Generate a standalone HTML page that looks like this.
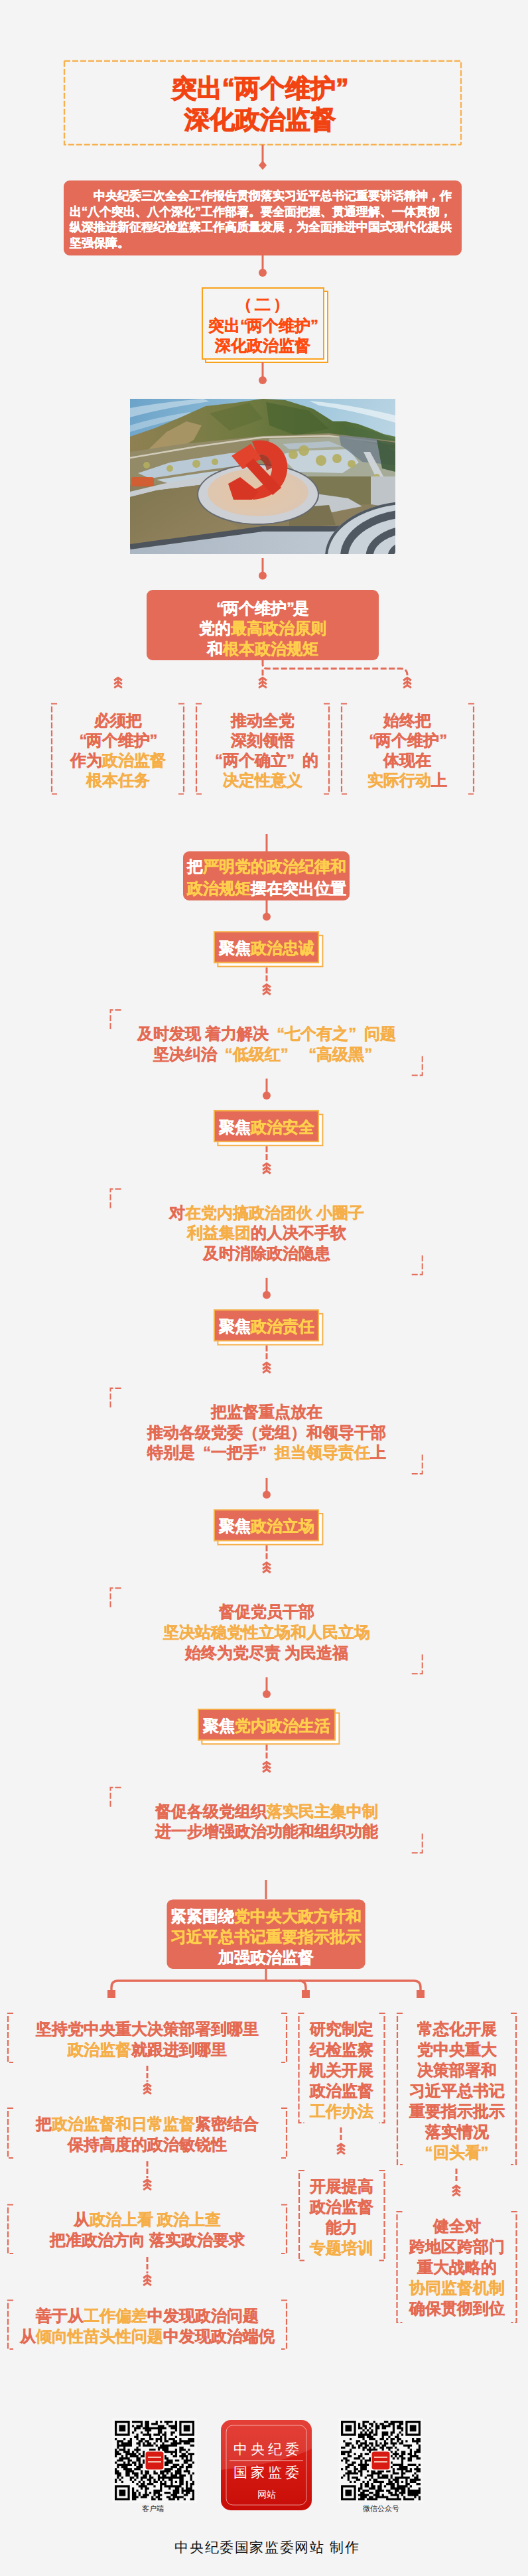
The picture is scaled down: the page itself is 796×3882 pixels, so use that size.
<!DOCTYPE html>
<html><head><meta charset="utf-8"><style>
html,body{margin:0;padding:0;}
body{width:796px;height:3882px;background:#f4f4f4;position:relative;overflow:hidden;font-family:"Liberation Sans",sans-serif;}
.t{position:absolute;text-align:center;white-space:nowrap;font-weight:bold;-webkit-text-stroke:0.45px currentColor;}
.intro{white-space:normal;text-align:justify;text-indent:2em;font-size:18px;line-height:23.5px;color:#fff;-webkit-text-stroke:0.5px #fff;}
.q{display:inline-block;width:19.5px;}
.q2{display:inline-block;width:10px;}
.q3{display:inline-block;width:24px;}
.qo{text-align:right;}
.qc{text-align:left;}
svg.main{position:absolute;left:0;top:0;}
.f{position:absolute;text-align:center;white-space:nowrap;color:#fff;}
</style></head><body>
<svg class="main" width="796" height="3882" viewBox="0 0 796 3882">
<path d="M97,91.8 L695,91.8 L695,218 M97,91.8 L97,218 L695,218" fill="none" stroke="#f8b04c" stroke-width="2.3" stroke-dasharray="9 3"/>
<line x1="396" y1="218" x2="396" y2="246" stroke="#e36b58" stroke-width="3"/>
<path d="M396,242 L402,249 L396,256 L390,249 Z" fill="#e36b58"/>
<rect x="96" y="272" width="600" height="113" rx="9" fill="#e36b58"/>
<line x1="396" y1="385" x2="396" y2="411" stroke="#e36b58" stroke-width="3"/>
<circle cx="396" cy="411" r="6" fill="#e36b58"/>
<rect x="310" y="439" width="184" height="107" rx="0" fill="#ffffff" stroke="#f9a11b" stroke-width="2"/>
<rect x="305" y="434" width="183" height="107" rx="0" fill="#f4f4f4" stroke="#f9a11b" stroke-width="2"/>
<line x1="396" y1="546" x2="396" y2="573" stroke="#e36b58" stroke-width="3"/>
<circle cx="396" cy="573" r="6" fill="#e36b58"/>
<svg x="196" y="601" width="400" height="234" viewBox="0 0 400 234" overflow="hidden">
<defs>
<linearGradient id="sky" x1="0" y1="0" x2="1" y2="0.3"><stop offset="0" stop-color="#6ba3c9"/><stop offset="0.6" stop-color="#9ec6dc"/><stop offset="1" stop-color="#bcd6e4"/></linearGradient>
<linearGradient id="mtn" x1="0" y1="0" x2="1" y2="0"><stop offset="0" stop-color="#8f8052"/><stop offset="0.45" stop-color="#6f7a40"/><stop offset="0.8" stop-color="#4f6a36"/><stop offset="1" stop-color="#5d7a48"/></linearGradient>
<linearGradient id="pave" x1="0" y1="0" x2="1" y2="0"><stop offset="0" stop-color="#aab6c2"/><stop offset="1" stop-color="#c3cdd7"/></linearGradient>
<radialGradient id="beige" cx="0.45" cy="0.5" r="0.55"><stop offset="0" stop-color="#e6c6a6"/><stop offset="1" stop-color="#dcc6b2"/></radialGradient>
<linearGradient id="grass" x1="0" y1="0" x2="1" y2="1"><stop offset="0" stop-color="#7f7650"/><stop offset="1" stop-color="#95855f"/></linearGradient>
</defs>
<rect x="0" y="0" width="400" height="234" fill="url(#sky)"/>
<path d="M0,14 Q40,6 110,0 L120,4 Q50,14 0,28 Z" fill="#e3eef4" opacity="0.5"/>
<path d="M0,40 Q40,28 90,20 L95,25 Q45,36 0,50 Z" fill="#e3eef4" opacity="0.4"/>
<path d="M270,3 Q330,8 400,25 L400,36 Q340,18 285,10 Z" fill="#eef5f8" opacity="0.7"/>
<path d="M0,57 L38,44 L76,28 L114,11 L159,6 L200,0 L234,2 L276,15 L306,34 L325,34 L344,38 L363,45 L382,53 L400,57 L400,110 L0,110 Z" fill="url(#mtn)"/>
<path d="M28,76 L55,50 L85,34 L108,40 L96,62 L62,82 Z" fill="#b09a6c" opacity="0.8"/>
<path d="M120,22 L180,6 L200,30 L150,48 Z" fill="#5a6c32" opacity="0.5"/>
<path d="M205,5 L270,18 L300,45 L250,55 L210,40 Z" fill="#46612e" opacity="0.6"/>
<path d="M320,40 L370,50 L400,62 L400,80 L330,62 Z" fill="#47683f" opacity="0.5"/>
<rect x="0" y="100" width="400" height="134" fill="#8a7e5c"/>
<path d="M0,80 L80,68 L200,56 L300,52 L400,64 L400,125 L0,130 Z" fill="#938a68"/>
<path d="M0,89 L100,72 L200,58 L300,56 L400,68" fill="none" stroke="#d2cdbb" stroke-width="2.5"/>
<path d="M210,60 L320,58 L400,75 L400,120 L210,118 Z" fill="#a6ab98"/>
<path d="M12,112 L60,96 L150,82 L200,80 L185,98 L110,108 L30,120 Z" fill="#b9c9d5"/>
<path d="M40,122 L120,110 L160,106 L140,117 L60,128 Z" fill="#c2d0da"/>
<path d="M225,84 L260,78 L330,76 L345,96 L320,112 L250,110 Z" fill="#c6d2da"/>
<path d="M230,68 L300,64 L320,72 L240,76 Z" fill="#b3c0c8"/>
<path d="M315,55 L370,60 L400,80 L400,100 L350,95 L318,70 Z" fill="#6f7f8c" opacity="0.8"/>
<path d="M372,62 L400,66 L400,110 L380,105 Z" fill="#3f5b3c" opacity="0.9"/>
<path d="M352,80 L362,80 L400,150 L390,158 Z" fill="#cdd2d6"/>
<circle cx="25" cy="100" r="5" fill="#b2ad5e" opacity="0.9"/>
<circle cx="60" cy="105" r="5" fill="#b2ad5e" opacity="0.9"/>
<circle cx="100" cy="98" r="6" fill="#b2ad5e" opacity="0.9"/>
<circle cx="128" cy="95" r="5" fill="#b2ad5e" opacity="0.9"/>
<circle cx="246" cy="84" r="7" fill="#b2ad5e" opacity="0.9"/>
<circle cx="262" cy="78" r="8" fill="#b2ad5e" opacity="0.9"/>
<circle cx="288" cy="93" r="8" fill="#b2ad5e" opacity="0.9"/>
<circle cx="312" cy="90" r="7" fill="#b2ad5e" opacity="0.9"/>
<circle cx="334" cy="98" r="6" fill="#b2ad5e" opacity="0.9"/>
<circle cx="372" cy="118" r="5" fill="#b2ad5e" opacity="0.9"/>
<circle cx="388" cy="126" r="5" fill="#b2ad5e" opacity="0.9"/>
<path d="M0,140 L50,128 L114,116 L140,114 L120,128 L40,138 L0,148 Z" fill="#c8cdd2"/>
<rect x="2" y="118" width="34" height="14" rx="3" fill="#d85a2e" opacity="0.9"/>
<path d="M0,148 L40,138 L120,128 L130,150 L150,185 L165,195 L0,222 Z" fill="url(#grass)"/>
<path d="M268,117 L363,117 L363,159 L320,160 L285,150 Z" fill="#7b7852"/>
<path d="M363,117 L400,117 L400,165 L363,159 Z" fill="#bfc4c8"/>
<path d="M280,143 L329,150 L350,162 L300,172 L272,165 Z" fill="#c3c8cd"/>
<path d="M240,165 L300,160 L310,190 L240,195 Z" fill="#7a7150"/>
<path d="M0,222 L200,193 L300,192 L400,190 L400,234 L0,234 Z" fill="url(#pave)"/>
<path d="M0,223 L200,196 L300,196 L400,192" fill="none" stroke="#4e545c" stroke-width="8"/>
<ellipse cx="427" cy="238" rx="133" ry="84" fill="#c9d1d9"/>
<g fill="none" stroke="#4f5760">
<ellipse cx="427" cy="238" rx="131" ry="82" stroke-width="4"/>
<ellipse cx="427" cy="238" rx="104" ry="65.52" stroke-width="12"/>
<ellipse cx="427" cy="238" rx="66" ry="41.58" stroke-width="11"/>
<ellipse cx="427" cy="238" rx="34" ry="21.42" stroke-width="9"/>
</g>
<ellipse cx="193" cy="144" rx="92" ry="46" fill="#656a70"/>
<ellipse cx="193" cy="144" rx="90" ry="44" fill="#cdd1d6"/>
<ellipse cx="193" cy="141" rx="76" ry="36" fill="url(#beige)"/>
<path d="M184,64 C218,56 244,84 236,114 C230,138 210,150 186,152 L174,140 C198,136 214,122 214,104 C214,90 204,82 192,84 Z" fill="#dc3b27"/>
<path d="M192,84 C204,82 214,90 214,104 L206,108 C204,96 198,90 190,90 Z" fill="#a8281c" opacity="0.8"/>
<path d="M148,128 L166,118 L194,140 L184,152 L156,152 Z" fill="#d83624"/>
<path d="M153,86 L182,68 L198,90 L170,106 Z" fill="#e2432c"/>
<path d="M174,100 L186,90 L228,134 L215,145 Z" fill="#d63524"/>
</svg>
<line x1="396" y1="841" x2="396" y2="867" stroke="#e36b58" stroke-width="3"/>
<circle cx="396" cy="867.4" r="6" fill="#e36b58"/>
<rect x="221" y="889" width="350" height="106" rx="9" fill="#e36b58"/>
<path d="M396,995 L396,1001 Q396,1007.5 402.5,1007.5 L604,1007.5 Q614,1007.5 614,1017.5" fill="none" stroke="#e36b58" stroke-width="3" stroke-dasharray="9 3.5"/>
<line x1="396" y1="1009" x2="396" y2="1018" stroke="#e36b58" stroke-width="3"/>
<path d="M172.1,1025.4 L178,1021.4 L183.9,1025.4 M172.1,1030.95 L178,1026.95 L183.9,1030.95 M172.1,1036.5 L178,1032.5 L183.9,1036.5 " fill="none" stroke="#e36b58" stroke-width="3.1" stroke-linejoin="miter" stroke-miterlimit="10"/>
<line x1="178" y1="1021.5" x2="178" y2="1032.5" stroke="#e36b58" stroke-width="2.6"/>
<path d="M390.1,1025.4 L396,1021.4 L401.9,1025.4 M390.1,1030.95 L396,1026.95 L401.9,1030.95 M390.1,1036.5 L396,1032.5 L401.9,1036.5 " fill="none" stroke="#e36b58" stroke-width="3.1" stroke-linejoin="miter" stroke-miterlimit="10"/>
<line x1="396" y1="1021.5" x2="396" y2="1032.5" stroke="#e36b58" stroke-width="2.6"/>
<path d="M608.1,1025.4 L614,1021.4 L619.9,1025.4 M608.1,1030.95 L614,1026.95 L619.9,1030.95 M608.1,1036.5 L614,1032.5 L619.9,1036.5 " fill="none" stroke="#e36b58" stroke-width="3.1" stroke-linejoin="miter" stroke-miterlimit="10"/>
<line x1="614" y1="1021.5" x2="614" y2="1032.5" stroke="#e36b58" stroke-width="2.6"/>
<path d="M86,1060.5 L78,1060.5 L78,1196.5 L86,1196.5" fill="none" stroke="#e36b58" stroke-width="2.2" stroke-dasharray="9 3"/>
<path d="M269,1060.5 L277,1060.5 L277,1196.5 L269,1196.5" fill="none" stroke="#e36b58" stroke-width="2.2" stroke-dasharray="9 3"/>
<path d="M304,1060.5 L296,1060.5 L296,1196.5 L304,1196.5" fill="none" stroke="#e36b58" stroke-width="2.2" stroke-dasharray="9 3"/>
<path d="M488,1060.5 L496,1060.5 L496,1196.5 L488,1196.5" fill="none" stroke="#e36b58" stroke-width="2.2" stroke-dasharray="9 3"/>
<path d="M523,1060.5 L515,1060.5 L515,1196.5 L523,1196.5" fill="none" stroke="#e36b58" stroke-width="2.2" stroke-dasharray="9 3"/>
<path d="M706,1060.5 L714,1060.5 L714,1196.5 L706,1196.5" fill="none" stroke="#e36b58" stroke-width="2.2" stroke-dasharray="9 3"/>
<line x1="402" y1="1257" x2="402" y2="1283" stroke="#e36b58" stroke-width="3"/>
<rect x="276" y="1283" width="251" height="74" rx="9" fill="#e36b58"/>
<line x1="402" y1="1357" x2="402" y2="1381.4" stroke="#e36b58" stroke-width="3"/>
<circle cx="402" cy="1381.4" r="6" fill="#e36b58"/>
<rect x="328.4" y="1409.8" width="158.0" height="46.700000000000045" rx="0" fill="#ffffff" stroke="#f6b04a" stroke-width="2"/>
<rect x="323" y="1404.2" width="157" height="46.299999999999955" rx="0" fill="#e36b58" stroke="#f6b04a" stroke-width="2"/>
<line x1="402" y1="1458" x2="402" y2="1479.5" stroke="#e36b58" stroke-width="3" stroke-dasharray="9 2.7"/>
<path d="M396.1,1487.6000000000001 L402,1483.6000000000001 L407.9,1487.6000000000001 M396.1,1493.15 L402,1489.15 L407.9,1493.15 M396.1,1498.7 L402,1494.7 L407.9,1498.7 " fill="none" stroke="#e36b58" stroke-width="3.1" stroke-linejoin="miter" stroke-miterlimit="10"/>
<line x1="402" y1="1483.7" x2="402" y2="1494.7" stroke="#e36b58" stroke-width="2.6"/>
<path d="M182.5,1522 L166.5,1522 L166.5,1552" fill="none" stroke="#e36b58" stroke-width="2" stroke-dasharray="9 3"/>
<path d="M620.7,1620.5 L636.7,1620.5 L636.7,1590.5" fill="none" stroke="#e36b58" stroke-width="2" stroke-dasharray="9 3"/>
<line x1="402" y1="1625.5" x2="402" y2="1651.1" stroke="#e36b58" stroke-width="3"/>
<circle cx="402" cy="1651.1" r="6" fill="#e36b58"/>
<rect x="328.4" y="1679.5" width="158.0" height="46.700000000000045" rx="0" fill="#ffffff" stroke="#f6b04a" stroke-width="2"/>
<rect x="323" y="1673.9" width="157" height="46.299999999999955" rx="0" fill="#e36b58" stroke="#f6b04a" stroke-width="2"/>
<line x1="402" y1="1727.2" x2="402" y2="1748.7" stroke="#e36b58" stroke-width="3" stroke-dasharray="9 2.7"/>
<path d="M396.1,1757.3000000000002 L402,1753.3000000000002 L407.9,1757.3000000000002 M396.1,1762.8500000000001 L402,1758.8500000000001 L407.9,1762.8500000000001 M396.1,1768.4 L402,1764.4 L407.9,1768.4 " fill="none" stroke="#e36b58" stroke-width="3.1" stroke-linejoin="miter" stroke-miterlimit="10"/>
<line x1="402" y1="1753.4" x2="402" y2="1764.4" stroke="#e36b58" stroke-width="2.6"/>
<path d="M182.5,1791.7 L166.5,1791.7 L166.5,1821.7" fill="none" stroke="#e36b58" stroke-width="2" stroke-dasharray="9 3"/>
<path d="M620.7,1920.7 L636.7,1920.7 L636.7,1890.7" fill="none" stroke="#e36b58" stroke-width="2" stroke-dasharray="9 3"/>
<line x1="402" y1="1925.8" x2="402" y2="1951.3999999999999" stroke="#e36b58" stroke-width="3"/>
<circle cx="402" cy="1951.3999999999999" r="6" fill="#e36b58"/>
<rect x="328.4" y="1979.8" width="158.0" height="46.700000000000045" rx="0" fill="#ffffff" stroke="#f6b04a" stroke-width="2"/>
<rect x="323" y="1974.2" width="157" height="46.299999999999955" rx="0" fill="#e36b58" stroke="#f6b04a" stroke-width="2"/>
<line x1="402" y1="2027.5" x2="402" y2="2049.0" stroke="#e36b58" stroke-width="3" stroke-dasharray="9 2.7"/>
<path d="M396.1,2057.6 L402,2053.6 L407.9,2057.6 M396.1,2063.15 L402,2059.15 L407.9,2063.15 M396.1,2068.7 L402,2064.7 L407.9,2068.7 " fill="none" stroke="#e36b58" stroke-width="3.1" stroke-linejoin="miter" stroke-miterlimit="10"/>
<line x1="402" y1="2053.7" x2="402" y2="2064.7" stroke="#e36b58" stroke-width="2.6"/>
<path d="M182.5,2092.0 L166.5,2092.0 L166.5,2122.0" fill="none" stroke="#e36b58" stroke-width="2" stroke-dasharray="9 3"/>
<path d="M620.7,2221.0 L636.7,2221.0 L636.7,2191.0" fill="none" stroke="#e36b58" stroke-width="2" stroke-dasharray="9 3"/>
<line x1="402" y1="2227" x2="402" y2="2252.6" stroke="#e36b58" stroke-width="3"/>
<circle cx="402" cy="2252.6" r="6" fill="#e36b58"/>
<rect x="328.4" y="2281" width="158.0" height="46.69999999999982" rx="0" fill="#ffffff" stroke="#f6b04a" stroke-width="2"/>
<rect x="323" y="2275.4" width="157" height="46.29999999999973" rx="0" fill="#e36b58" stroke="#f6b04a" stroke-width="2"/>
<line x1="402" y1="2328.7" x2="402" y2="2350.2" stroke="#e36b58" stroke-width="3" stroke-dasharray="9 2.7"/>
<path d="M396.1,2358.7999999999997 L402,2354.7999999999997 L407.9,2358.7999999999997 M396.1,2364.35 L402,2360.35 L407.9,2364.35 M396.1,2369.8999999999996 L402,2365.8999999999996 L407.9,2369.8999999999996 " fill="none" stroke="#e36b58" stroke-width="3.1" stroke-linejoin="miter" stroke-miterlimit="10"/>
<line x1="402" y1="2354.8999999999996" x2="402" y2="2365.8999999999996" stroke="#e36b58" stroke-width="2.6"/>
<path d="M182.5,2393.2 L166.5,2393.2 L166.5,2423.2" fill="none" stroke="#e36b58" stroke-width="2" stroke-dasharray="9 3"/>
<path d="M620.7,2522.2 L636.7,2522.2 L636.7,2492.2" fill="none" stroke="#e36b58" stroke-width="2" stroke-dasharray="9 3"/>
<line x1="402" y1="2527.5" x2="402" y2="2553.1" stroke="#e36b58" stroke-width="3"/>
<circle cx="402" cy="2553.1" r="6" fill="#e36b58"/>
<rect x="304.4" y="2581.5" width="207.0" height="46.69999999999982" rx="0" fill="#ffffff" stroke="#f6b04a" stroke-width="2"/>
<rect x="299" y="2575.9" width="206" height="46.29999999999973" rx="0" fill="#e36b58" stroke="#f6b04a" stroke-width="2"/>
<line x1="402" y1="2629.2" x2="402" y2="2650.7" stroke="#e36b58" stroke-width="3" stroke-dasharray="9 2.7"/>
<path d="M396.1,2659.2999999999997 L402,2655.2999999999997 L407.9,2659.2999999999997 M396.1,2664.85 L402,2660.85 L407.9,2664.85 M396.1,2670.3999999999996 L402,2666.3999999999996 L407.9,2670.3999999999996 " fill="none" stroke="#e36b58" stroke-width="3.1" stroke-linejoin="miter" stroke-miterlimit="10"/>
<line x1="402" y1="2655.3999999999996" x2="402" y2="2666.3999999999996" stroke="#e36b58" stroke-width="2.6"/>
<path d="M182.5,2693.7 L166.5,2693.7 L166.5,2723.7" fill="none" stroke="#e36b58" stroke-width="2" stroke-dasharray="9 3"/>
<path d="M620.7,2792.2 L636.7,2792.2 L636.7,2762.2" fill="none" stroke="#e36b58" stroke-width="2" stroke-dasharray="9 3"/>
<line x1="401" y1="2833" x2="401" y2="2862" stroke="#e36b58" stroke-width="3"/>
<rect x="251.5" y="2862.4" width="299.1" height="104.59999999999991" rx="9" fill="#e36b58"/>
<line x1="401" y1="2967" x2="401" y2="2985" stroke="#e36b58" stroke-width="3"/>
<path d="M168,3000 L168,2995 Q168,2985 178,2985 L624,2985 Q634,2985 634,2995 L634,3000" fill="none" stroke="#e36b58" stroke-width="3.4"/>
<path d="M451,2985 Q461,2985 461,2995 L461,3000" fill="none" stroke="#e36b58" stroke-width="3.4"/>
<rect x="162" y="2999" width="12" height="12" rx="0" fill="#e36b58"/>
<rect x="455" y="2999" width="12" height="12" rx="0" fill="#e36b58"/>
<rect x="628" y="2999" width="12" height="12" rx="0" fill="#e36b58"/>
<path d="M20,3034 L12,3034 L12,3108 L20,3108" fill="none" stroke="#e36b58" stroke-width="2.2" stroke-dasharray="9 3"/>
<path d="M424,3034 L432,3034 L432,3108 L424,3108" fill="none" stroke="#e36b58" stroke-width="2.2" stroke-dasharray="9 3"/>
<line x1="222" y1="3113" x2="222" y2="3137" stroke="#e36b58" stroke-width="3" stroke-dasharray="8 3"/>
<path d="M216.1,3144.4 L222,3140.4 L227.9,3144.4 M216.1,3149.9500000000003 L222,3145.9500000000003 L227.9,3149.9500000000003 M216.1,3155.5 L222,3151.5 L227.9,3155.5 " fill="none" stroke="#e36b58" stroke-width="3.1" stroke-linejoin="miter" stroke-miterlimit="10"/>
<line x1="222" y1="3140.5" x2="222" y2="3151.5" stroke="#e36b58" stroke-width="2.6"/>
<path d="M20,3177 L12,3177 L12,3252 L20,3252" fill="none" stroke="#e36b58" stroke-width="2.2" stroke-dasharray="9 3"/>
<path d="M424,3177 L432,3177 L432,3252 L424,3252" fill="none" stroke="#e36b58" stroke-width="2.2" stroke-dasharray="9 3"/>
<line x1="222" y1="3257" x2="222" y2="3282" stroke="#e36b58" stroke-width="3" stroke-dasharray="8 3"/>
<path d="M216.1,3288.9 L222,3284.9 L227.9,3288.9 M216.1,3294.4500000000003 L222,3290.4500000000003 L227.9,3294.4500000000003 M216.1,3300.0 L222,3296.0 L227.9,3300.0 " fill="none" stroke="#e36b58" stroke-width="3.1" stroke-linejoin="miter" stroke-miterlimit="10"/>
<line x1="222" y1="3285" x2="222" y2="3296" stroke="#e36b58" stroke-width="2.6"/>
<path d="M20,3322.5 L12,3322.5 L12,3396 L20,3396" fill="none" stroke="#e36b58" stroke-width="2.2" stroke-dasharray="9 3"/>
<path d="M424,3322.5 L432,3322.5 L432,3396 L424,3396" fill="none" stroke="#e36b58" stroke-width="2.2" stroke-dasharray="9 3"/>
<line x1="222" y1="3401" x2="222" y2="3426" stroke="#e36b58" stroke-width="3" stroke-dasharray="8 3"/>
<path d="M216.1,3432.9 L222,3428.9 L227.9,3432.9 M216.1,3438.4500000000003 L222,3434.4500000000003 L227.9,3438.4500000000003 M216.1,3444.0 L222,3440.0 L227.9,3444.0 " fill="none" stroke="#e36b58" stroke-width="3.1" stroke-linejoin="miter" stroke-miterlimit="10"/>
<line x1="222" y1="3429" x2="222" y2="3440" stroke="#e36b58" stroke-width="2.6"/>
<path d="M20,3466.5 L12,3466.5 L12,3540 L20,3540" fill="none" stroke="#e36b58" stroke-width="2.2" stroke-dasharray="9 3"/>
<path d="M424,3466.5 L432,3466.5 L432,3540 L424,3540" fill="none" stroke="#e36b58" stroke-width="2.2" stroke-dasharray="9 3"/>
<path d="M458.5,3034 L450.5,3034 L450.5,3199 L458.5,3199" fill="none" stroke="#e36b58" stroke-width="2.2" stroke-dasharray="9 3"/>
<path d="M571.5,3034 L579.5,3034 L579.5,3199 L571.5,3199" fill="none" stroke="#e36b58" stroke-width="2.2" stroke-dasharray="9 3"/>
<line x1="514" y1="3206" x2="514" y2="3227" stroke="#e36b58" stroke-width="3" stroke-dasharray="8 3"/>
<path d="M508.1,3234.9 L514,3230.9 L519.9,3234.9 M508.1,3240.4500000000003 L514,3236.4500000000003 L519.9,3240.4500000000003 M508.1,3246.0 L514,3242.0 L519.9,3246.0 " fill="none" stroke="#e36b58" stroke-width="3.1" stroke-linejoin="miter" stroke-miterlimit="10"/>
<line x1="514" y1="3231" x2="514" y2="3242" stroke="#e36b58" stroke-width="2.6"/>
<path d="M459,3271 L451,3271 L451,3406.5 L459,3406.5" fill="none" stroke="#e36b58" stroke-width="2.2" stroke-dasharray="9 3"/>
<path d="M571.5,3271 L579.5,3271 L579.5,3406.5 L571.5,3406.5" fill="none" stroke="#e36b58" stroke-width="2.2" stroke-dasharray="9 3"/>
<path d="M607,3034 L599,3034 L599,3262 L607,3262" fill="none" stroke="#e36b58" stroke-width="2.2" stroke-dasharray="9 3"/>
<path d="M770,3034 L778,3034 L778,3262 L770,3262" fill="none" stroke="#e36b58" stroke-width="2.2" stroke-dasharray="9 3"/>
<line x1="688" y1="3268" x2="688" y2="3290" stroke="#e36b58" stroke-width="3" stroke-dasharray="8 3"/>
<path d="M682.1,3297.9 L688,3293.9 L693.9,3297.9 M682.1,3303.4500000000003 L688,3299.4500000000003 L693.9,3303.4500000000003 M682.1,3309.0 L688,3305.0 L693.9,3309.0 " fill="none" stroke="#e36b58" stroke-width="3.1" stroke-linejoin="miter" stroke-miterlimit="10"/>
<line x1="688" y1="3294" x2="688" y2="3305" stroke="#e36b58" stroke-width="2.6"/>
<path d="M606.5,3333 L598.5,3333 L598.5,3500 L606.5,3500" fill="none" stroke="#e36b58" stroke-width="2.2" stroke-dasharray="9 3"/>
<path d="M770.5,3333 L778.5,3333 L778.5,3500 L770.5,3500" fill="none" stroke="#e36b58" stroke-width="2.2" stroke-dasharray="9 3"/>
<g transform="translate(173,3648)"><rect x="-4" y="-4" width="128" height="128" fill="#ffffff" opacity="0.3"/><path d="M0.00 0.00h22.70v3.24h-22.70zM25.95 0.00h16.22v3.24h-16.22zM45.41 0.00h6.49v3.24h-6.49zM61.62 0.00h3.24v3.24h-3.24zM68.11 0.00h3.24v3.24h-3.24zM74.59 0.00h12.97v3.24h-12.97zM90.81 0.00h3.24v3.24h-3.24zM97.30 0.00h22.70v3.24h-22.70zM0.00 3.24h3.24v3.24h-3.24zM19.46 3.24h3.24v3.24h-3.24zM38.92 3.24h3.24v3.24h-3.24zM45.41 3.24h6.49v3.24h-6.49zM55.14 3.24h9.73v3.24h-9.73zM77.84 3.24h3.24v3.24h-3.24zM90.81 3.24h3.24v3.24h-3.24zM97.30 3.24h3.24v3.24h-3.24zM116.76 3.24h3.24v3.24h-3.24zM0.00 6.49h3.24v3.24h-3.24zM6.49 6.49h9.73v3.24h-9.73zM19.46 6.49h3.24v3.24h-3.24zM25.95 6.49h3.24v3.24h-3.24zM32.43 6.49h9.73v3.24h-9.73zM45.41 6.49h6.49v3.24h-6.49zM64.86 6.49h9.73v3.24h-9.73zM81.08 6.49h12.97v3.24h-12.97zM97.30 6.49h3.24v3.24h-3.24zM103.78 6.49h9.73v3.24h-9.73zM116.76 6.49h3.24v3.24h-3.24zM0.00 9.73h3.24v3.24h-3.24zM6.49 9.73h9.73v3.24h-9.73zM19.46 9.73h3.24v3.24h-3.24zM29.19 9.73h9.73v3.24h-9.73zM42.16 9.73h35.68v3.24h-35.68zM84.32 9.73h9.73v3.24h-9.73zM97.30 9.73h3.24v3.24h-3.24zM103.78 9.73h9.73v3.24h-9.73zM116.76 9.73h3.24v3.24h-3.24zM0.00 12.97h3.24v3.24h-3.24zM6.49 12.97h9.73v3.24h-9.73zM19.46 12.97h3.24v3.24h-3.24zM29.19 12.97h3.24v3.24h-3.24zM45.41 12.97h9.73v3.24h-9.73zM64.86 12.97h6.49v3.24h-6.49zM90.81 12.97h3.24v3.24h-3.24zM97.30 12.97h3.24v3.24h-3.24zM103.78 12.97h9.73v3.24h-9.73zM116.76 12.97h3.24v3.24h-3.24zM0.00 16.22h3.24v3.24h-3.24zM19.46 16.22h3.24v3.24h-3.24zM25.95 16.22h3.24v3.24h-3.24zM38.92 16.22h3.24v3.24h-3.24zM48.65 16.22h3.24v3.24h-3.24zM64.86 16.22h6.49v3.24h-6.49zM74.59 16.22h3.24v3.24h-3.24zM84.32 16.22h6.49v3.24h-6.49zM97.30 16.22h3.24v3.24h-3.24zM116.76 16.22h3.24v3.24h-3.24zM0.00 19.46h22.70v3.24h-22.70zM32.43 19.46h3.24v3.24h-3.24zM42.16 19.46h12.97v3.24h-12.97zM58.38 19.46h9.73v3.24h-9.73zM71.35 19.46h6.49v3.24h-6.49zM84.32 19.46h3.24v3.24h-3.24zM97.30 19.46h22.70v3.24h-22.70zM29.19 22.70h6.49v3.24h-6.49zM51.89 22.70h3.24v3.24h-3.24zM68.11 22.70h3.24v3.24h-3.24zM74.59 22.70h3.24v3.24h-3.24zM90.81 22.70h3.24v3.24h-3.24zM0.00 25.95h3.24v3.24h-3.24zM12.97 25.95h3.24v3.24h-3.24zM22.70 25.95h3.24v3.24h-3.24zM32.43 25.95h3.24v3.24h-3.24zM38.92 25.95h6.49v3.24h-6.49zM51.89 25.95h6.49v3.24h-6.49zM61.62 25.95h9.73v3.24h-9.73zM74.59 25.95h3.24v3.24h-3.24zM81.08 25.95h9.73v3.24h-9.73zM97.30 25.95h3.24v3.24h-3.24zM110.27 25.95h9.73v3.24h-9.73zM3.24 29.19h9.73v3.24h-9.73zM19.46 29.19h6.49v3.24h-6.49zM35.68 29.19h6.49v3.24h-6.49zM45.41 29.19h6.49v3.24h-6.49zM61.62 29.19h3.24v3.24h-3.24zM68.11 29.19h3.24v3.24h-3.24zM74.59 29.19h6.49v3.24h-6.49zM87.57 29.19h6.49v3.24h-6.49zM97.30 29.19h22.70v3.24h-22.70zM3.24 32.43h3.24v3.24h-3.24zM9.73 32.43h16.22v3.24h-16.22zM32.43 32.43h6.49v3.24h-6.49zM42.16 32.43h3.24v3.24h-3.24zM48.65 32.43h6.49v3.24h-6.49zM58.38 32.43h3.24v3.24h-3.24zM71.35 32.43h3.24v3.24h-3.24zM84.32 32.43h16.22v3.24h-16.22zM103.78 32.43h9.73v3.24h-9.73zM3.24 35.68h22.70v3.24h-22.70zM35.68 35.68h3.24v3.24h-3.24zM42.16 35.68h16.22v3.24h-16.22zM61.62 35.68h3.24v3.24h-3.24zM68.11 35.68h25.95v3.24h-25.95zM113.51 35.68h6.49v3.24h-6.49zM3.24 38.92h3.24v3.24h-3.24zM12.97 38.92h3.24v3.24h-3.24zM32.43 38.92h3.24v3.24h-3.24zM64.86 38.92h16.22v3.24h-16.22zM97.30 38.92h6.49v3.24h-6.49zM0.00 42.16h3.24v3.24h-3.24zM6.49 42.16h9.73v3.24h-9.73zM19.46 42.16h3.24v3.24h-3.24zM29.19 42.16h9.73v3.24h-9.73zM51.89 42.16h9.73v3.24h-9.73zM64.86 42.16h3.24v3.24h-3.24zM71.35 42.16h9.73v3.24h-9.73zM90.81 42.16h3.24v3.24h-3.24zM97.30 42.16h9.73v3.24h-9.73zM110.27 42.16h3.24v3.24h-3.24zM0.00 45.41h6.49v3.24h-6.49zM12.97 45.41h9.73v3.24h-9.73zM25.95 45.41h3.24v3.24h-3.24zM32.43 45.41h3.24v3.24h-3.24zM42.16 45.41h3.24v3.24h-3.24zM58.38 45.41h3.24v3.24h-3.24zM64.86 45.41h29.19v3.24h-29.19zM97.30 45.41h3.24v3.24h-3.24zM107.03 45.41h3.24v3.24h-3.24zM0.00 48.65h9.73v3.24h-9.73zM16.22 48.65h16.22v3.24h-16.22zM35.68 48.65h3.24v3.24h-3.24zM42.16 48.65h6.49v3.24h-6.49zM51.89 48.65h6.49v3.24h-6.49zM84.32 48.65h3.24v3.24h-3.24zM90.81 48.65h3.24v3.24h-3.24zM100.54 48.65h6.49v3.24h-6.49zM110.27 48.65h9.73v3.24h-9.73zM0.00 51.89h3.24v3.24h-3.24zM9.73 51.89h3.24v3.24h-3.24zM16.22 51.89h3.24v3.24h-3.24zM22.70 51.89h12.97v3.24h-12.97zM38.92 51.89h6.49v3.24h-6.49zM51.89 51.89h25.95v3.24h-25.95zM87.57 51.89h6.49v3.24h-6.49zM97.30 51.89h12.97v3.24h-12.97zM113.51 51.89h3.24v3.24h-3.24zM6.49 55.14h16.22v3.24h-16.22zM32.43 55.14h6.49v3.24h-6.49zM45.41 55.14h3.24v3.24h-3.24zM51.89 55.14h6.49v3.24h-6.49zM71.35 55.14h9.73v3.24h-9.73zM100.54 55.14h3.24v3.24h-3.24zM107.03 55.14h3.24v3.24h-3.24zM113.51 55.14h3.24v3.24h-3.24zM3.24 58.38h9.73v3.24h-9.73zM19.46 58.38h6.49v3.24h-6.49zM32.43 58.38h6.49v3.24h-6.49zM42.16 58.38h9.73v3.24h-9.73zM61.62 58.38h9.73v3.24h-9.73zM77.84 58.38h9.73v3.24h-9.73zM90.81 58.38h6.49v3.24h-6.49zM103.78 58.38h12.97v3.24h-12.97zM0.00 61.62h3.24v3.24h-3.24zM12.97 61.62h3.24v3.24h-3.24zM19.46 61.62h3.24v3.24h-3.24zM25.95 61.62h6.49v3.24h-6.49zM35.68 61.62h3.24v3.24h-3.24zM42.16 61.62h12.97v3.24h-12.97zM61.62 61.62h9.73v3.24h-9.73zM74.59 61.62h12.97v3.24h-12.97zM103.78 61.62h6.49v3.24h-6.49zM116.76 61.62h3.24v3.24h-3.24zM3.24 64.86h22.70v3.24h-22.70zM29.19 64.86h3.24v3.24h-3.24zM35.68 64.86h6.49v3.24h-6.49zM48.65 64.86h12.97v3.24h-12.97zM64.86 64.86h6.49v3.24h-6.49zM74.59 64.86h6.49v3.24h-6.49zM87.57 64.86h9.73v3.24h-9.73zM100.54 64.86h3.24v3.24h-3.24zM110.27 64.86h6.49v3.24h-6.49zM3.24 68.11h3.24v3.24h-3.24zM9.73 68.11h9.73v3.24h-9.73zM32.43 68.11h9.73v3.24h-9.73zM48.65 68.11h12.97v3.24h-12.97zM64.86 68.11h3.24v3.24h-3.24zM84.32 68.11h9.73v3.24h-9.73zM97.30 68.11h6.49v3.24h-6.49zM107.03 68.11h9.73v3.24h-9.73zM0.00 71.35h3.24v3.24h-3.24zM12.97 71.35h12.97v3.24h-12.97zM29.19 71.35h9.73v3.24h-9.73zM55.14 71.35h3.24v3.24h-3.24zM61.62 71.35h3.24v3.24h-3.24zM68.11 71.35h3.24v3.24h-3.24zM74.59 71.35h12.97v3.24h-12.97zM94.05 71.35h6.49v3.24h-6.49zM107.03 71.35h3.24v3.24h-3.24zM0.00 74.59h6.49v3.24h-6.49zM16.22 74.59h12.97v3.24h-12.97zM38.92 74.59h3.24v3.24h-3.24zM45.41 74.59h6.49v3.24h-6.49zM58.38 74.59h3.24v3.24h-3.24zM68.11 74.59h16.22v3.24h-16.22zM90.81 74.59h9.73v3.24h-9.73zM103.78 74.59h9.73v3.24h-9.73zM0.00 77.84h9.73v3.24h-9.73zM16.22 77.84h6.49v3.24h-6.49zM25.95 77.84h9.73v3.24h-9.73zM38.92 77.84h3.24v3.24h-3.24zM45.41 77.84h6.49v3.24h-6.49zM58.38 77.84h6.49v3.24h-6.49zM68.11 77.84h6.49v3.24h-6.49zM77.84 77.84h3.24v3.24h-3.24zM84.32 77.84h3.24v3.24h-3.24zM90.81 77.84h9.73v3.24h-9.73zM110.27 77.84h3.24v3.24h-3.24zM116.76 77.84h3.24v3.24h-3.24zM3.24 81.08h6.49v3.24h-6.49zM16.22 81.08h6.49v3.24h-6.49zM29.19 81.08h6.49v3.24h-6.49zM42.16 81.08h6.49v3.24h-6.49zM51.89 81.08h3.24v3.24h-3.24zM64.86 81.08h3.24v3.24h-3.24zM71.35 81.08h6.49v3.24h-6.49zM84.32 81.08h9.73v3.24h-9.73zM97.30 81.08h9.73v3.24h-9.73zM113.51 81.08h3.24v3.24h-3.24zM3.24 84.32h3.24v3.24h-3.24zM9.73 84.32h3.24v3.24h-3.24zM22.70 84.32h6.49v3.24h-6.49zM32.43 84.32h3.24v3.24h-3.24zM38.92 84.32h9.73v3.24h-9.73zM51.89 84.32h6.49v3.24h-6.49zM64.86 84.32h38.92v3.24h-38.92zM113.51 84.32h3.24v3.24h-3.24zM0.00 87.57h3.24v3.24h-3.24zM6.49 87.57h3.24v3.24h-3.24zM22.70 87.57h3.24v3.24h-3.24zM29.19 87.57h3.24v3.24h-3.24zM38.92 87.57h3.24v3.24h-3.24zM48.65 87.57h6.49v3.24h-6.49zM58.38 87.57h3.24v3.24h-3.24zM64.86 87.57h3.24v3.24h-3.24zM71.35 87.57h3.24v3.24h-3.24zM81.08 87.57h6.49v3.24h-6.49zM97.30 87.57h6.49v3.24h-6.49zM113.51 87.57h3.24v3.24h-3.24zM0.00 90.81h3.24v3.24h-3.24zM9.73 90.81h3.24v3.24h-3.24zM25.95 90.81h3.24v3.24h-3.24zM35.68 90.81h3.24v3.24h-3.24zM42.16 90.81h3.24v3.24h-3.24zM51.89 90.81h3.24v3.24h-3.24zM58.38 90.81h6.49v3.24h-6.49zM68.11 90.81h3.24v3.24h-3.24zM74.59 90.81h3.24v3.24h-3.24zM84.32 90.81h3.24v3.24h-3.24zM90.81 90.81h3.24v3.24h-3.24zM97.30 90.81h6.49v3.24h-6.49zM107.03 90.81h3.24v3.24h-3.24zM116.76 90.81h3.24v3.24h-3.24zM32.43 94.05h3.24v3.24h-3.24zM38.92 94.05h6.49v3.24h-6.49zM48.65 94.05h9.73v3.24h-9.73zM68.11 94.05h9.73v3.24h-9.73zM84.32 94.05h3.24v3.24h-3.24zM97.30 94.05h6.49v3.24h-6.49zM107.03 94.05h3.24v3.24h-3.24zM113.51 94.05h6.49v3.24h-6.49zM0.00 97.30h22.70v3.24h-22.70zM35.68 97.30h12.97v3.24h-12.97zM58.38 97.30h3.24v3.24h-3.24zM68.11 97.30h3.24v3.24h-3.24zM74.59 97.30h25.95v3.24h-25.95zM107.03 97.30h3.24v3.24h-3.24zM113.51 97.30h3.24v3.24h-3.24zM0.00 100.54h3.24v3.24h-3.24zM19.46 100.54h3.24v3.24h-3.24zM25.95 100.54h3.24v3.24h-3.24zM38.92 100.54h3.24v3.24h-3.24zM45.41 100.54h6.49v3.24h-6.49zM68.11 100.54h3.24v3.24h-3.24zM81.08 100.54h3.24v3.24h-3.24zM90.81 100.54h6.49v3.24h-6.49zM100.54 100.54h3.24v3.24h-3.24zM107.03 100.54h9.73v3.24h-9.73zM0.00 103.78h3.24v3.24h-3.24zM6.49 103.78h9.73v3.24h-9.73zM19.46 103.78h3.24v3.24h-3.24zM25.95 103.78h3.24v3.24h-3.24zM32.43 103.78h3.24v3.24h-3.24zM45.41 103.78h3.24v3.24h-3.24zM58.38 103.78h12.97v3.24h-12.97zM87.57 103.78h9.73v3.24h-9.73zM100.54 103.78h19.46v3.24h-19.46zM0.00 107.03h3.24v3.24h-3.24zM6.49 107.03h9.73v3.24h-9.73zM19.46 107.03h3.24v3.24h-3.24zM25.95 107.03h6.49v3.24h-6.49zM35.68 107.03h3.24v3.24h-3.24zM45.41 107.03h3.24v3.24h-3.24zM51.89 107.03h3.24v3.24h-3.24zM58.38 107.03h9.73v3.24h-9.73zM74.59 107.03h9.73v3.24h-9.73zM87.57 107.03h9.73v3.24h-9.73zM100.54 107.03h3.24v3.24h-3.24zM107.03 107.03h6.49v3.24h-6.49zM116.76 107.03h3.24v3.24h-3.24zM0.00 110.27h3.24v3.24h-3.24zM6.49 110.27h9.73v3.24h-9.73zM19.46 110.27h3.24v3.24h-3.24zM25.95 110.27h6.49v3.24h-6.49zM35.68 110.27h3.24v3.24h-3.24zM42.16 110.27h9.73v3.24h-9.73zM58.38 110.27h3.24v3.24h-3.24zM64.86 110.27h6.49v3.24h-6.49zM84.32 110.27h9.73v3.24h-9.73zM103.78 110.27h6.49v3.24h-6.49zM116.76 110.27h3.24v3.24h-3.24zM0.00 113.51h3.24v3.24h-3.24zM19.46 113.51h3.24v3.24h-3.24zM25.95 113.51h9.73v3.24h-9.73zM38.92 113.51h9.73v3.24h-9.73zM55.14 113.51h3.24v3.24h-3.24zM61.62 113.51h6.49v3.24h-6.49zM77.84 113.51h6.49v3.24h-6.49zM87.57 113.51h16.22v3.24h-16.22zM116.76 113.51h3.24v3.24h-3.24zM0.00 116.76h22.70v3.24h-22.70zM25.95 116.76h6.49v3.24h-6.49zM55.14 116.76h6.49v3.24h-6.49zM64.86 116.76h6.49v3.24h-6.49zM81.08 116.76h9.73v3.24h-9.73zM94.05 116.76h3.24v3.24h-3.24zM103.78 116.76h3.24v3.24h-3.24zM113.51 116.76h6.49v3.24h-6.49z" fill="#000"/><rect x="45.0" y="45.0" width="30" height="30" rx="4" fill="#ffffff"/><rect x="46.5" y="46.5" width="27" height="27" rx="3.5" fill="#d71a12"/><rect x="50.0" y="54.0" width="20" height="2" fill="#f6c0b0"/><rect x="50.0" y="61.0" width="20" height="2" fill="#f6c0b0"/></g>
<g transform="translate(514,3648)"><rect x="-4" y="-4" width="128" height="128" fill="#ffffff" opacity="0.3"/><path d="M0.00 0.00h22.70v3.24h-22.70zM32.43 0.00h9.73v3.24h-9.73zM48.65 0.00h3.24v3.24h-3.24zM64.86 0.00h6.49v3.24h-6.49zM74.59 0.00h19.46v3.24h-19.46zM97.30 0.00h22.70v3.24h-22.70zM0.00 3.24h3.24v3.24h-3.24zM19.46 3.24h3.24v3.24h-3.24zM25.95 3.24h3.24v3.24h-3.24zM32.43 3.24h3.24v3.24h-3.24zM42.16 3.24h6.49v3.24h-6.49zM51.89 3.24h3.24v3.24h-3.24zM58.38 3.24h6.49v3.24h-6.49zM71.35 3.24h9.73v3.24h-9.73zM87.57 3.24h6.49v3.24h-6.49zM97.30 3.24h3.24v3.24h-3.24zM116.76 3.24h3.24v3.24h-3.24zM0.00 6.49h3.24v3.24h-3.24zM6.49 6.49h9.73v3.24h-9.73zM19.46 6.49h3.24v3.24h-3.24zM25.95 6.49h3.24v3.24h-3.24zM32.43 6.49h6.49v3.24h-6.49zM45.41 6.49h3.24v3.24h-3.24zM51.89 6.49h6.49v3.24h-6.49zM61.62 6.49h12.97v3.24h-12.97zM77.84 6.49h3.24v3.24h-3.24zM84.32 6.49h6.49v3.24h-6.49zM97.30 6.49h3.24v3.24h-3.24zM103.78 6.49h9.73v3.24h-9.73zM116.76 6.49h3.24v3.24h-3.24zM0.00 9.73h3.24v3.24h-3.24zM6.49 9.73h9.73v3.24h-9.73zM19.46 9.73h3.24v3.24h-3.24zM25.95 9.73h6.49v3.24h-6.49zM35.68 9.73h3.24v3.24h-3.24zM42.16 9.73h3.24v3.24h-3.24zM51.89 9.73h6.49v3.24h-6.49zM61.62 9.73h6.49v3.24h-6.49zM77.84 9.73h3.24v3.24h-3.24zM84.32 9.73h9.73v3.24h-9.73zM97.30 9.73h3.24v3.24h-3.24zM103.78 9.73h9.73v3.24h-9.73zM116.76 9.73h3.24v3.24h-3.24zM0.00 12.97h3.24v3.24h-3.24zM6.49 12.97h9.73v3.24h-9.73zM19.46 12.97h3.24v3.24h-3.24zM32.43 12.97h3.24v3.24h-3.24zM38.92 12.97h3.24v3.24h-3.24zM45.41 12.97h3.24v3.24h-3.24zM51.89 12.97h3.24v3.24h-3.24zM77.84 12.97h3.24v3.24h-3.24zM90.81 12.97h3.24v3.24h-3.24zM97.30 12.97h3.24v3.24h-3.24zM103.78 12.97h9.73v3.24h-9.73zM116.76 12.97h3.24v3.24h-3.24zM0.00 16.22h3.24v3.24h-3.24zM19.46 16.22h3.24v3.24h-3.24zM29.19 16.22h3.24v3.24h-3.24zM35.68 16.22h3.24v3.24h-3.24zM42.16 16.22h6.49v3.24h-6.49zM51.89 16.22h3.24v3.24h-3.24zM61.62 16.22h9.73v3.24h-9.73zM74.59 16.22h6.49v3.24h-6.49zM87.57 16.22h3.24v3.24h-3.24zM97.30 16.22h3.24v3.24h-3.24zM116.76 16.22h3.24v3.24h-3.24zM0.00 19.46h22.70v3.24h-22.70zM25.95 19.46h19.46v3.24h-19.46zM48.65 19.46h6.49v3.24h-6.49zM61.62 19.46h9.73v3.24h-9.73zM74.59 19.46h3.24v3.24h-3.24zM84.32 19.46h3.24v3.24h-3.24zM90.81 19.46h3.24v3.24h-3.24zM97.30 19.46h22.70v3.24h-22.70zM25.95 22.70h9.73v3.24h-9.73zM38.92 22.70h9.73v3.24h-9.73zM61.62 22.70h3.24v3.24h-3.24zM71.35 22.70h3.24v3.24h-3.24zM81.08 22.70h6.49v3.24h-6.49zM12.97 25.95h3.24v3.24h-3.24zM32.43 25.95h3.24v3.24h-3.24zM42.16 25.95h9.73v3.24h-9.73zM58.38 25.95h6.49v3.24h-6.49zM68.11 25.95h3.24v3.24h-3.24zM74.59 25.95h6.49v3.24h-6.49zM84.32 25.95h6.49v3.24h-6.49zM107.03 25.95h3.24v3.24h-3.24zM113.51 25.95h6.49v3.24h-6.49zM3.24 29.19h3.24v3.24h-3.24zM22.70 29.19h6.49v3.24h-6.49zM35.68 29.19h3.24v3.24h-3.24zM51.89 29.19h3.24v3.24h-3.24zM64.86 29.19h3.24v3.24h-3.24zM74.59 29.19h3.24v3.24h-3.24zM84.32 29.19h3.24v3.24h-3.24zM90.81 29.19h3.24v3.24h-3.24zM97.30 29.19h3.24v3.24h-3.24zM107.03 29.19h12.97v3.24h-12.97zM6.49 32.43h9.73v3.24h-9.73zM22.70 32.43h3.24v3.24h-3.24zM29.19 32.43h9.73v3.24h-9.73zM42.16 32.43h6.49v3.24h-6.49zM51.89 32.43h3.24v3.24h-3.24zM58.38 32.43h3.24v3.24h-3.24zM64.86 32.43h6.49v3.24h-6.49zM74.59 32.43h9.73v3.24h-9.73zM87.57 32.43h6.49v3.24h-6.49zM113.51 32.43h3.24v3.24h-3.24zM6.49 35.68h6.49v3.24h-6.49zM16.22 35.68h3.24v3.24h-3.24zM25.95 35.68h6.49v3.24h-6.49zM35.68 35.68h6.49v3.24h-6.49zM45.41 35.68h3.24v3.24h-3.24zM51.89 35.68h6.49v3.24h-6.49zM61.62 35.68h6.49v3.24h-6.49zM77.84 35.68h3.24v3.24h-3.24zM94.05 35.68h12.97v3.24h-12.97zM116.76 35.68h3.24v3.24h-3.24zM0.00 38.92h6.49v3.24h-6.49zM16.22 38.92h6.49v3.24h-6.49zM25.95 38.92h3.24v3.24h-3.24zM32.43 38.92h6.49v3.24h-6.49zM42.16 38.92h3.24v3.24h-3.24zM48.65 38.92h3.24v3.24h-3.24zM58.38 38.92h6.49v3.24h-6.49zM68.11 38.92h9.73v3.24h-9.73zM81.08 38.92h3.24v3.24h-3.24zM100.54 38.92h3.24v3.24h-3.24zM116.76 38.92h3.24v3.24h-3.24zM12.97 42.16h3.24v3.24h-3.24zM32.43 42.16h3.24v3.24h-3.24zM38.92 42.16h16.22v3.24h-16.22zM61.62 42.16h3.24v3.24h-3.24zM71.35 42.16h3.24v3.24h-3.24zM84.32 42.16h3.24v3.24h-3.24zM103.78 42.16h3.24v3.24h-3.24zM113.51 42.16h6.49v3.24h-6.49zM0.00 45.41h16.22v3.24h-16.22zM42.16 45.41h3.24v3.24h-3.24zM51.89 45.41h3.24v3.24h-3.24zM58.38 45.41h12.97v3.24h-12.97zM74.59 45.41h3.24v3.24h-3.24zM81.08 45.41h3.24v3.24h-3.24zM90.81 45.41h6.49v3.24h-6.49zM103.78 45.41h3.24v3.24h-3.24zM110.27 45.41h9.73v3.24h-9.73zM0.00 48.65h6.49v3.24h-6.49zM9.73 48.65h3.24v3.24h-3.24zM19.46 48.65h3.24v3.24h-3.24zM29.19 48.65h3.24v3.24h-3.24zM35.68 48.65h6.49v3.24h-6.49zM45.41 48.65h3.24v3.24h-3.24zM58.38 48.65h3.24v3.24h-3.24zM71.35 48.65h3.24v3.24h-3.24zM77.84 48.65h9.73v3.24h-9.73zM90.81 48.65h6.49v3.24h-6.49zM100.54 48.65h6.49v3.24h-6.49zM110.27 48.65h3.24v3.24h-3.24zM9.73 51.89h6.49v3.24h-6.49zM25.95 51.89h6.49v3.24h-6.49zM48.65 51.89h6.49v3.24h-6.49zM64.86 51.89h12.97v3.24h-12.97zM81.08 51.89h3.24v3.24h-3.24zM87.57 51.89h6.49v3.24h-6.49zM103.78 51.89h12.97v3.24h-12.97zM3.24 55.14h6.49v3.24h-6.49zM19.46 55.14h9.73v3.24h-9.73zM32.43 55.14h3.24v3.24h-3.24zM42.16 55.14h3.24v3.24h-3.24zM55.14 55.14h9.73v3.24h-9.73zM68.11 55.14h6.49v3.24h-6.49zM77.84 55.14h3.24v3.24h-3.24zM84.32 55.14h3.24v3.24h-3.24zM90.81 55.14h6.49v3.24h-6.49zM100.54 55.14h6.49v3.24h-6.49zM113.51 55.14h6.49v3.24h-6.49zM0.00 58.38h3.24v3.24h-3.24zM6.49 58.38h6.49v3.24h-6.49zM29.19 58.38h3.24v3.24h-3.24zM35.68 58.38h9.73v3.24h-9.73zM51.89 58.38h22.70v3.24h-22.70zM90.81 58.38h3.24v3.24h-3.24zM100.54 58.38h6.49v3.24h-6.49zM6.49 61.62h3.24v3.24h-3.24zM16.22 61.62h6.49v3.24h-6.49zM29.19 61.62h3.24v3.24h-3.24zM35.68 61.62h3.24v3.24h-3.24zM45.41 61.62h6.49v3.24h-6.49zM61.62 61.62h6.49v3.24h-6.49zM74.59 61.62h3.24v3.24h-3.24zM90.81 61.62h3.24v3.24h-3.24zM9.73 64.86h9.73v3.24h-9.73zM25.95 64.86h16.22v3.24h-16.22zM45.41 64.86h9.73v3.24h-9.73zM61.62 64.86h9.73v3.24h-9.73zM77.84 64.86h16.22v3.24h-16.22zM100.54 64.86h12.97v3.24h-12.97zM116.76 64.86h3.24v3.24h-3.24zM6.49 68.11h6.49v3.24h-6.49zM19.46 68.11h3.24v3.24h-3.24zM29.19 68.11h9.73v3.24h-9.73zM45.41 68.11h3.24v3.24h-3.24zM55.14 68.11h3.24v3.24h-3.24zM64.86 68.11h12.97v3.24h-12.97zM87.57 68.11h12.97v3.24h-12.97zM113.51 68.11h3.24v3.24h-3.24zM0.00 71.35h3.24v3.24h-3.24zM6.49 71.35h3.24v3.24h-3.24zM19.46 71.35h6.49v3.24h-6.49zM29.19 71.35h9.73v3.24h-9.73zM48.65 71.35h3.24v3.24h-3.24zM55.14 71.35h3.24v3.24h-3.24zM61.62 71.35h3.24v3.24h-3.24zM68.11 71.35h3.24v3.24h-3.24zM77.84 71.35h3.24v3.24h-3.24zM84.32 71.35h16.22v3.24h-16.22zM103.78 71.35h3.24v3.24h-3.24zM110.27 71.35h9.73v3.24h-9.73zM9.73 74.59h6.49v3.24h-6.49zM19.46 74.59h3.24v3.24h-3.24zM25.95 74.59h6.49v3.24h-6.49zM38.92 74.59h3.24v3.24h-3.24zM45.41 74.59h6.49v3.24h-6.49zM55.14 74.59h9.73v3.24h-9.73zM68.11 74.59h6.49v3.24h-6.49zM77.84 74.59h3.24v3.24h-3.24zM90.81 74.59h3.24v3.24h-3.24zM97.30 74.59h9.73v3.24h-9.73zM113.51 74.59h6.49v3.24h-6.49zM6.49 77.84h19.46v3.24h-19.46zM29.19 77.84h3.24v3.24h-3.24zM45.41 77.84h16.22v3.24h-16.22zM77.84 77.84h9.73v3.24h-9.73zM90.81 77.84h6.49v3.24h-6.49zM110.27 77.84h3.24v3.24h-3.24zM3.24 81.08h3.24v3.24h-3.24zM9.73 81.08h3.24v3.24h-3.24zM29.19 81.08h3.24v3.24h-3.24zM38.92 81.08h9.73v3.24h-9.73zM55.14 81.08h3.24v3.24h-3.24zM61.62 81.08h9.73v3.24h-9.73zM74.59 81.08h3.24v3.24h-3.24zM90.81 81.08h3.24v3.24h-3.24zM107.03 81.08h3.24v3.24h-3.24zM113.51 81.08h3.24v3.24h-3.24zM0.00 84.32h3.24v3.24h-3.24zM9.73 84.32h3.24v3.24h-3.24zM16.22 84.32h9.73v3.24h-9.73zM35.68 84.32h3.24v3.24h-3.24zM45.41 84.32h3.24v3.24h-3.24zM55.14 84.32h16.22v3.24h-16.22zM74.59 84.32h3.24v3.24h-3.24zM81.08 84.32h22.70v3.24h-22.70zM110.27 84.32h6.49v3.24h-6.49zM9.73 87.57h3.24v3.24h-3.24zM22.70 87.57h6.49v3.24h-6.49zM42.16 87.57h3.24v3.24h-3.24zM48.65 87.57h6.49v3.24h-6.49zM71.35 87.57h3.24v3.24h-3.24zM77.84 87.57h9.73v3.24h-9.73zM97.30 87.57h3.24v3.24h-3.24zM103.78 87.57h16.22v3.24h-16.22zM12.97 90.81h3.24v3.24h-3.24zM19.46 90.81h3.24v3.24h-3.24zM32.43 90.81h3.24v3.24h-3.24zM38.92 90.81h3.24v3.24h-3.24zM48.65 90.81h16.22v3.24h-16.22zM71.35 90.81h6.49v3.24h-6.49zM81.08 90.81h6.49v3.24h-6.49zM90.81 90.81h3.24v3.24h-3.24zM97.30 90.81h3.24v3.24h-3.24zM103.78 90.81h9.73v3.24h-9.73zM29.19 94.05h3.24v3.24h-3.24zM35.68 94.05h6.49v3.24h-6.49zM45.41 94.05h3.24v3.24h-3.24zM58.38 94.05h3.24v3.24h-3.24zM68.11 94.05h12.97v3.24h-12.97zM84.32 94.05h3.24v3.24h-3.24zM97.30 94.05h6.49v3.24h-6.49zM113.51 94.05h6.49v3.24h-6.49zM0.00 97.30h22.70v3.24h-22.70zM29.19 97.30h3.24v3.24h-3.24zM35.68 97.30h6.49v3.24h-6.49zM45.41 97.30h6.49v3.24h-6.49zM55.14 97.30h6.49v3.24h-6.49zM64.86 97.30h3.24v3.24h-3.24zM74.59 97.30h6.49v3.24h-6.49zM84.32 97.30h16.22v3.24h-16.22zM103.78 97.30h3.24v3.24h-3.24zM0.00 100.54h3.24v3.24h-3.24zM19.46 100.54h3.24v3.24h-3.24zM25.95 100.54h6.49v3.24h-6.49zM42.16 100.54h9.73v3.24h-9.73zM55.14 100.54h6.49v3.24h-6.49zM74.59 100.54h22.70v3.24h-22.70zM100.54 100.54h3.24v3.24h-3.24zM116.76 100.54h3.24v3.24h-3.24zM0.00 103.78h3.24v3.24h-3.24zM6.49 103.78h9.73v3.24h-9.73zM19.46 103.78h3.24v3.24h-3.24zM25.95 103.78h3.24v3.24h-3.24zM32.43 103.78h9.73v3.24h-9.73zM51.89 103.78h12.97v3.24h-12.97zM68.11 103.78h6.49v3.24h-6.49zM81.08 103.78h6.49v3.24h-6.49zM90.81 103.78h6.49v3.24h-6.49zM100.54 103.78h19.46v3.24h-19.46zM0.00 107.03h3.24v3.24h-3.24zM6.49 107.03h9.73v3.24h-9.73zM19.46 107.03h3.24v3.24h-3.24zM29.19 107.03h6.49v3.24h-6.49zM42.16 107.03h6.49v3.24h-6.49zM51.89 107.03h6.49v3.24h-6.49zM71.35 107.03h6.49v3.24h-6.49zM81.08 107.03h3.24v3.24h-3.24zM87.57 107.03h9.73v3.24h-9.73zM100.54 107.03h19.46v3.24h-19.46zM0.00 110.27h3.24v3.24h-3.24zM6.49 110.27h9.73v3.24h-9.73zM19.46 110.27h3.24v3.24h-3.24zM25.95 110.27h16.22v3.24h-16.22zM48.65 110.27h9.73v3.24h-9.73zM61.62 110.27h3.24v3.24h-3.24zM74.59 110.27h12.97v3.24h-12.97zM90.81 110.27h3.24v3.24h-3.24zM100.54 110.27h16.22v3.24h-16.22zM0.00 113.51h3.24v3.24h-3.24zM19.46 113.51h3.24v3.24h-3.24zM29.19 113.51h9.73v3.24h-9.73zM42.16 113.51h6.49v3.24h-6.49zM51.89 113.51h19.46v3.24h-19.46zM84.32 113.51h3.24v3.24h-3.24zM94.05 113.51h3.24v3.24h-3.24zM110.27 113.51h3.24v3.24h-3.24zM116.76 113.51h3.24v3.24h-3.24zM0.00 116.76h22.70v3.24h-22.70zM25.95 116.76h9.73v3.24h-9.73zM38.92 116.76h16.22v3.24h-16.22zM68.11 116.76h22.70v3.24h-22.70zM94.05 116.76h16.22v3.24h-16.22zM116.76 116.76h3.24v3.24h-3.24z" fill="#000"/><rect x="45.0" y="45.0" width="30" height="30" rx="4" fill="#ffffff"/><rect x="46.5" y="46.5" width="27" height="27" rx="3.5" fill="#d71a12"/><rect x="50.0" y="54.0" width="20" height="2" fill="#f6c0b0"/><rect x="50.0" y="61.0" width="20" height="2" fill="#f6c0b0"/></g>
<defs><linearGradient id="lg" x1="0" y1="0" x2="0" y2="1"><stop offset="0" stop-color="#e2261c"/><stop offset="1" stop-color="#c80c07"/></linearGradient></defs>
<rect x="333" y="3647" width="137" height="136" rx="15" fill="url(#lg)"/>
<path d="M333,3720 L333,3662 Q333,3647 348,3647 L455,3647 Q470,3647 470,3662 L470,3690 Q430,3712 333,3722 Z" fill="#ffffff" opacity="0.12"/>
<rect x="341" y="3655" width="121" height="120" rx="10" fill="none" stroke="#ffffff" stroke-opacity="0.55" stroke-width="1"/>
<line x1="346" y1="3708.5" x2="457" y2="3708.5" stroke="#ffffff" stroke-opacity="0.85" stroke-width="1"/>
</svg>
<div class="t" style="left:92.0px;top:109.2px;width:600px;font-size:38.2px;line-height:47px;color:#f24312;-webkit-text-stroke:1.3px currentColor;">突出<span class="q">“</span>两个维护<span class="q">”</span><br>深化政治监督</div>
<div class="t intro" style="left:105px;top:284px;width:576px;">中央纪委三次全会工作报告贯彻落实习近平总书记重要讲话精神，作出“八个突出、八个深化”工作部署。要全面把握、贯通理解、一体贯彻，纵深推进新征程纪检监察工作高质量发展，为全面推进中国式现代化提供坚强保障。</div>
<div class="t" style="left:96.0px;top:446.4px;width:600px;font-size:24px;line-height:29.7px;color:#ff4a0f;"><span style="letter-spacing:4px;margin-right:-4px;position:relative;top:-2.5px">（二）</span><br>突出<span class="q2">“</span>两个维护<span class="q2">”</span><br>深化政治监督</div>
<div class="t" style="left:96.0px;top:901.9px;width:600px;font-size:24px;line-height:30.5px;color:#ffffff;"><span class="q2">“</span>两个维护<span class="q2">”</span>是<br>党的<span style="color:#ffd04c">最高政治原则</span><br>和<span style="color:#ffd04c">根本政治规矩</span></div>
<div class="t" style="left:-122.5px;top:1070.6px;width:600px;font-size:24px;line-height:30px;color:#e56a52;">必须把<br><span class="q2">“</span>两个维护<span class="q2">”</span><br>作为<span style="color:#f6ae47">政治监督</span><br><span style="color:#f6ae47">根本任务</span></div>
<div class="t" style="left:96.0px;top:1070.6px;width:600px;font-size:24px;line-height:30px;color:#e56a52;">推动全党<br>深刻领悟<br><span class="q3 qo">“</span>两个确立<span class="q3 qc">”</span>的<br><span style="color:#f6ae47">决定性意义</span></div>
<div class="t" style="left:314.3px;top:1070.6px;width:600px;font-size:24px;line-height:30px;color:#e56a52;">始终把<br><span class="q2">“</span>两个维护<span class="q2">”</span><br>体现在<br><span style="color:#f6ae47">实际行动</span>上</div>
<div class="t" style="left:101.5px;top:1289.1px;width:600px;font-size:24px;line-height:33px;color:#ffffff;">把<span style="color:#ffd04c">严明党的政治纪律和</span><br><span style="color:#ffd04c">政治规矩</span>摆在突出位置</div>
<div class="t" style="left:101.5px;top:1414.1px;width:600px;font-size:24px;line-height:30px;color:#ffffff;">聚焦<span style="color:#ffd04c">政治忠诚</span></div>
<div class="t" style="left:102.0px;top:1542.8px;width:600px;font-size:24px;line-height:30.8px;color:#e56a52;">及时发现 着力解决<span style="color:#f6ae47"><span class="q3 qo">“</span>七个有之<span class="q3 qc">”</span>问题</span><br>坚决纠治<span style="color:#f6ae47"><span class="q3 qo">“</span>低级红<span class="q3 qc">”</span> <span class="q3 qo">“</span>高级黑<span class="q3 qc">”</span></span></div>
<div class="t" style="left:101.5px;top:1683.8px;width:600px;font-size:24px;line-height:30px;color:#ffffff;">聚焦<span style="color:#ffd04c">政治安全</span></div>
<div class="t" style="left:102.0px;top:1812.6px;width:600px;font-size:24px;line-height:30.8px;color:#e56a52;">对<span style="color:#f6ae47">在党内搞政治团伙 小圈子</span><br><span style="color:#f6ae47">利益集团</span>的人决不手软<br>及时消除政治隐患</div>
<div class="t" style="left:101.5px;top:1984.1px;width:600px;font-size:24px;line-height:30px;color:#ffffff;">聚焦<span style="color:#ffd04c">政治责任</span></div>
<div class="t" style="left:102.0px;top:2112.9px;width:600px;font-size:24px;line-height:30.8px;color:#e56a52;">把监督重点放在<br>推动各级党委（党组）和领导干部<br>特别是<span class="q3 qo">“</span>一把手<span class="q3 qc">”</span><span style="color:#f6ae47">担当领导责任</span>上</div>
<div class="t" style="left:101.5px;top:2285.3px;width:600px;font-size:24px;line-height:30px;color:#ffffff;">聚焦<span style="color:#ffd04c">政治立场</span></div>
<div class="t" style="left:102.0px;top:2414.1px;width:600px;font-size:24px;line-height:30.8px;color:#e56a52;">督促党员干部<br><span style="color:#f6ae47">坚决站稳党性立场和人民立场</span><br>始终为党尽责 为民造福</div>
<div class="t" style="left:102.0px;top:2585.8px;width:600px;font-size:24px;line-height:30px;color:#ffffff;">聚焦<span style="color:#ffd04c">党内政治生活</span></div>
<div class="t" style="left:102.0px;top:2714.6px;width:600px;font-size:24px;line-height:30.8px;color:#e56a52;">督促各级党组织<span style="color:#f6ae47">落实民主集中制</span><br>进一步增强政治功能和组织功能</div>
<div class="t" style="left:101.0px;top:2871.6px;width:600px;font-size:24px;line-height:31px;color:#ffffff;">紧紧围绕<span style="color:#ffd04c">党中央大政方针和</span><br><span style="color:#ffd04c">习近平总书记重要指示批示</span><br>加强政治监督</div>
<div class="t" style="left:-78.0px;top:3042.1px;width:600px;font-size:24px;line-height:31px;color:#e56a52;">坚持党中央重大决策部署到哪里<br><span style="color:#f6ae47">政治监督</span>就跟进到哪里</div>
<div class="t" style="left:-78.0px;top:3185.1px;width:600px;font-size:24px;line-height:31px;color:#e56a52;">把<span style="color:#f6ae47">政治监督和日常监督</span>紧密结合<br>保持高度的政治敏锐性</div>
<div class="t" style="left:-78.0px;top:3329.1px;width:600px;font-size:24px;line-height:31px;color:#e56a52;">从<span style="color:#f6ae47">政治上看 政治上查</span><br>把准政治方向 落实政治要求</div>
<div class="t" style="left:-78.0px;top:3473.6px;width:600px;font-size:24px;line-height:31px;color:#e56a52;">善于从<span style="color:#f6ae47">工作偏差</span>中发现政治问题<br>从<span style="color:#f6ae47">倾向性苗头性问题</span>中发现政治端倪</div>
<div class="t" style="left:215.0px;top:3042.1px;width:600px;font-size:24px;line-height:31px;color:#e56a52;">研究制定<br>纪检监察<br>机关开展<br>政治监督<br><span style="color:#f6ae47">工作办法</span></div>
<div class="t" style="left:215.0px;top:3278.6px;width:600px;font-size:24px;line-height:31px;color:#e56a52;">开展提高<br>政治监督<br>能力<br><span style="color:#f6ae47">专题培训</span></div>
<div class="t" style="left:388.5px;top:3042.1px;width:600px;font-size:24px;line-height:31px;color:#e56a52;">常态化开展<br>党中央重大<br>决策部署和<br>习近平总书记<br>重要指示批示<br>落实情况<br><span style="color:#f6ae47"><span class="q3 qo">“</span>回头看<span class="q3 qc">”</span></span></div>
<div class="t" style="left:388.5px;top:3339.1px;width:600px;font-size:24px;line-height:31px;color:#e56a52;">健全对<br>跨地区跨部门<br>重大战略的<br><span style="color:#f6ae47">协同监督机制</span><br>确保贯彻到位</div>
<div class="f" style="left:333px;top:3677px;width:137px;font-size:21px;line-height:28px;letter-spacing:5px;text-indent:5px;font-family:'Liberation Serif',serif;">中央纪委</div>
<div class="f" style="left:333px;top:3712px;width:137px;font-size:21px;line-height:28px;letter-spacing:5px;text-indent:5px;font-family:'Liberation Serif',serif;">国家监委</div>
<div class="f" style="left:333px;top:3749px;width:137px;font-size:14px;line-height:20px;">网站</div>
<div class="f" style="left:180px;top:3772px;width:100px;font-size:11px;line-height:16px;color:#222;">客户端</div>
<div class="f" style="left:524px;top:3772px;width:100px;font-size:11px;line-height:16px;color:#222;">微信公众号</div>
<div class="f" style="left:202px;top:3823.5px;width:400px;font-size:21px;line-height:30px;color:#111;letter-spacing:1.6px;text-indent:1.6px;">中央纪委国家监委网站 制作</div>
</body></html>
